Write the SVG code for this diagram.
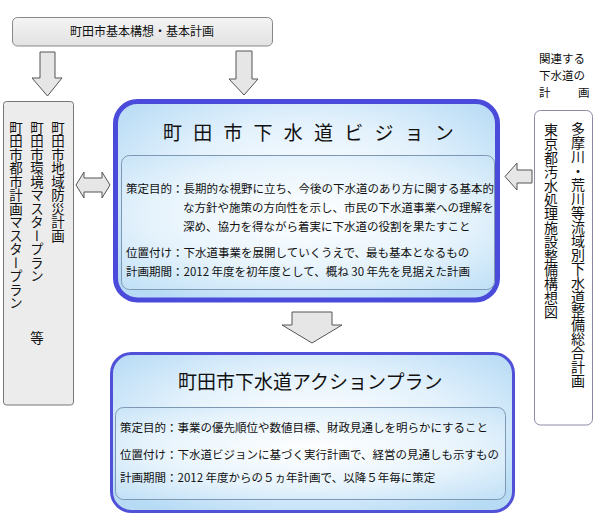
<svg xmlns="http://www.w3.org/2000/svg" width="600" height="532" viewBox="0 0 600 532">
<defs>
<radialGradient id="blueGrad" cx="50%" cy="45%" r="65%">
<stop offset="0" stop-color="#ffffff"/>
<stop offset="0.55" stop-color="#e2f1fc"/>
<stop offset="1" stop-color="#b7dbf5"/>
</radialGradient>
<radialGradient id="innerGrad" cx="50%" cy="45%" r="70%">
<stop offset="0" stop-color="#ffffff"/>
<stop offset="0.6" stop-color="#e6f3fc"/>
<stop offset="1" stop-color="#c4e2f7"/>
</radialGradient>
<linearGradient id="grayGrad" x1="0" y1="0" x2="0" y2="1">
<stop offset="0" stop-color="#f4f4f4"/>
<stop offset="1" stop-color="#e2e2e2"/>
</linearGradient>
</defs>
<style>
text{font-family:"Noto Sans CJK JP","Noto Sans CJK SC",sans-serif;fill:#111;}
.arrow{fill:#e6e6e6;stroke:#555;stroke-width:1;}
.body{font-size:11.5px;}
.vert{writing-mode:vertical-rl;font-size:13.5px;}
.vert14{writing-mode:vertical-rl;font-size:14px;}
.label{font-size:11.5px;}
.inner{fill:url(#innerGrad);stroke:#7e98b4;stroke-width:1;}
</style>
<rect width="600" height="532" fill="#fff"/>

<g id="connectors">
<path class="arrow" d="M40,52 H55 V78 H62 L47.5,96 L32,78 H40 Z"/>
<path class="arrow" d="M236,51 H252 V79 H258 L244,95 L229,79 H236 Z"/>
<path class="arrow" d="M292,312 H332 V325 H342 L312,343 L282,325 H292 Z"/>
<path class="arrow" d="M532,170 V183 H517 V190 L505,176.5 L517,163 V170 Z"/>
<path class="arrow" d="M76,185 L84,172 V178 H102 V172 L110,185 L102,198 V192 H84 V198 Z"/>
</g>

<g id="top-plan">
<rect x="12.5" y="17.5" width="260" height="28.5" rx="5" fill="url(#grayGrad)" stroke="#888"/>
<text x="142" y="36" font-size="12" text-anchor="middle">町田市基本構想・基本計画</text>
</g>

<g id="left-plans">
<rect x="3.5" y="101.5" width="70" height="303.5" rx="3" fill="#ececec" stroke="#777"/>
<text class="vert" x="58" y="121">町田市地域防災計画</text>
<text class="vert" x="37" y="121">町田市環境マスタープラン</text>
<text class="vert" x="37" y="331">等</text>
<text class="vert" x="16" y="121">町田市都市計画マスタープラン</text>
</g>

<g id="related-label">
<text class="label" x="539" y="63">関連する</text>
<text class="label" x="539" y="80">下水道の</text>
<text class="label" x="539" y="97">計</text>
<text class="label" x="578" y="97">画</text>
</g>

<g id="right-plans">
<rect x="534.5" y="110.5" width="58" height="314.5" rx="6" fill="#fff" stroke="#8a8aa8"/>
<text class="vert14" x="578" y="122">多摩川・荒川等流域別下水道整備総合計画</text>
<text class="vert14" x="551" y="123">東京都汚水処理施設整備構想図</text>
</g>

<g id="vision">
<rect x="115.5" y="101.5" width="382" height="198.5" rx="22" fill="url(#blueGrad)" stroke="#4b4bdb" stroke-width="5"/>
<text x="163" y="140" font-size="19" letter-spacing="11.2">町田市下水道ビジョン</text>
<rect class="inner" x="121.5" y="155.5" width="373" height="134" rx="8"/>
<text class="body" x="126" y="193">策定目的：長期的な視野に立ち、今後の下水道のあり方に関する基本的</text>
<text class="body" x="183" y="212">な方針や施策の方向性を示し、市民の下水道事業への理解を</text>
<text class="body" x="183" y="231">深め、協力を得ながら着実に下水道の役割を果たすこと</text>
<text class="body" x="126" y="257">位置付け：下水道事業を展開していくうえで、最も基本となるもの</text>
<text class="body" x="126" y="276">計画期間：2012 年度を初年度として、概ね 30 年先を見据えた計画</text>
</g>

<g id="action-plan">
<rect x="111.5" y="353.5" width="402" height="158" rx="20" fill="url(#blueGrad)" stroke="#5050d8" stroke-width="3"/>
<text x="178" y="389" font-size="19">町田市下水道アクションプラン</text>
<rect class="inner" x="115.5" y="407.5" width="390" height="92" rx="8"/>
<text class="body" x="120" y="432">策定目的：事業の優先順位や数値目標、財政見通しを明らかにすること</text>
<text class="body" x="120" y="459">位置付け：下水道ビジョンに基づく実行計画で、経営の見通しも示すもの</text>
<text class="body" x="120" y="482">計画期間：2012 年度からの５ヵ年計画で、以降５年毎に策定</text>
</g>
</svg>
